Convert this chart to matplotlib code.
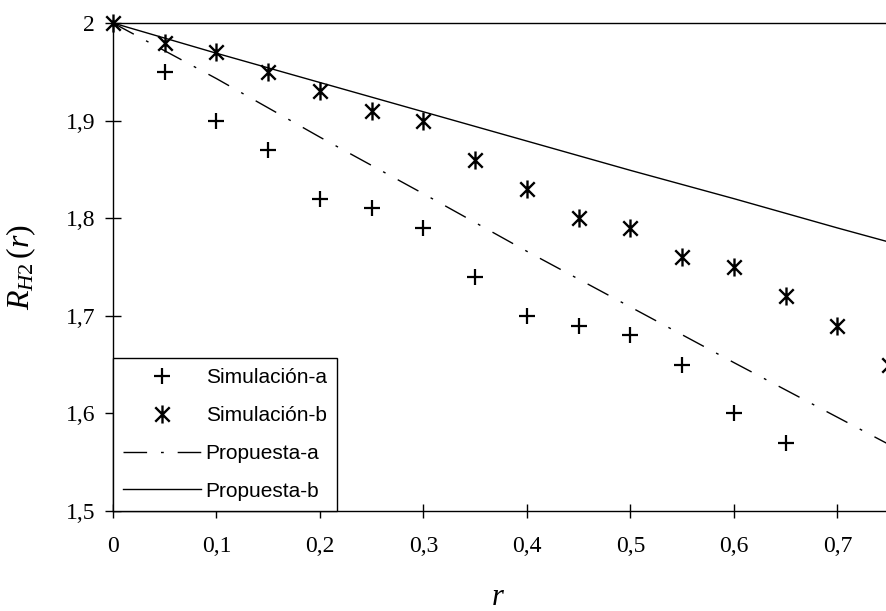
import numpy as np
import matplotlib
matplotlib.use('Agg')
import matplotlib.pyplot as plt
from matplotlib.path import Path

# Datos
r_sim_a = [0.05, 0.10, 0.15, 0.20, 0.25, 0.30, 0.35, 0.40, 0.45, 0.50, 0.55, 0.60, 0.65]
rh2_sim_a = [1.95, 1.90, 1.87, 1.82, 1.81, 1.79, 1.74, 1.70, 1.69, 1.68, 1.65, 1.60, 1.57]

r_sim_b = [0.0, 0.05, 0.10, 0.15, 0.20, 0.25, 0.30, 0.35, 0.40, 0.45, 0.50, 0.55, 0.60, 0.65, 0.70, 0.75]
rh2_sim_b = [2.0, 1.98, 1.97, 1.95, 1.93, 1.91, 1.90, 1.86, 1.83, 1.80, 1.79, 1.76, 1.75, 1.72, 1.69, 1.65]

r_prop = [0.0, 0.1, 0.2, 0.3, 0.4, 0.5, 0.6, 0.7, 0.8]
rh2_prop_a = [2.0, 1.943, 1.883, 1.825, 1.766, 1.709, 1.652, 1.596, 1.540]
rh2_prop_b = [2.0, 1.969, 1.939, 1.909, 1.879, 1.849, 1.820, 1.790, 1.761]

x_ticks = [0.0, 0.1, 0.2, 0.3, 0.4, 0.5, 0.6, 0.7]
x_labels = ['0', '0,1', '0,2', '0,3', '0,4', '0,5', '0,6', '0,7']
y_ticks = [1.5, 1.6, 1.7, 1.8, 1.9, 2.0]
y_labels = ['1,5', '1,6', '1,7', '1,8', '1,9', '2']

plt.rcParams['mathtext.fontset'] = 'custom'
plt.rcParams['mathtext.rm'] = 'Liberation Serif'
plt.rcParams['mathtext.it'] = 'Liberation Serif:italic'

# marcador tipo "X con barra vertical" como en el original
star = Path([(0, 1), (0, -1), (-0.8, 0.8), (0.8, -0.8), (-0.8, -0.8), (0.8, 0.8)],
            [Path.MOVETO, Path.LINETO] * 3)

fig = plt.figure(figsize=(8.87, 6.11), dpi=100)
# el eje se sale por la derecha, como en la figura original (recortada)
ax = fig.add_axes([113 / 887, 1 - 511 / 611, 828 / 887, 488 / 611])

ax.plot(r_sim_a, rh2_sim_a, linestyle='none', marker='+', markersize=11,
        markeredgewidth=1.6, color='black', label='Simulación-a', clip_on=False)
ax.plot(r_sim_b, rh2_sim_b, linestyle='none', marker=star, markersize=13,
        markeredgewidth=1.7, color='black', label='Simulación-b', clip_on=False)
ax.plot(r_prop, rh2_prop_a, color='black', linewidth=1.0,
        linestyle=(0, (17, 10, 2, 10)), label='Propuesta-a')
ax.plot(r_prop, rh2_prop_b, color='black', linewidth=1.0, label='Propuesta-b')

ax.set_xlim(0, 0.8)
ax.set_ylim(1.5, 2.0)
ax.set_xticks(x_ticks)
ax.set_xticklabels(x_labels)
ax.set_yticks(y_ticks)
ax.set_yticklabels(y_labels)

for lab in ax.get_xticklabels() + ax.get_yticklabels():
    lab.set_fontfamily('Liberation Serif')
    lab.set_fontsize(17)

ax.tick_params(axis='x', direction='inout', length=10, width=1, pad=13)
ax.tick_params(axis='y', direction='inout', length=12, width=1, pad=7)

for s in ax.spines.values():
    s.set_linewidth(1.0)

ax.set_ylabel(r'$R_{H2}\,(r)$', fontsize=23)
ax.yaxis.set_label_coords(-0.09, 0.5)
ax.set_xlabel(r'$r$', fontsize=22)
ax.xaxis.set_label_coords(0.465, -0.145)

leg = ax.legend(loc='lower left', bbox_to_anchor=(0, 0), borderaxespad=0,
                prop={'family': 'Liberation Sans', 'size': 15},
                frameon=True, fancybox=False, framealpha=1,
                handlelength=3.7, handletextpad=0.25, labelspacing=0.9,
                borderpad=0.5)
leg.get_frame().set_edgecolor('black')
leg.get_frame().set_linewidth(1.0)

fig.savefig('out.png', dpi=100)
plt.close(fig)
